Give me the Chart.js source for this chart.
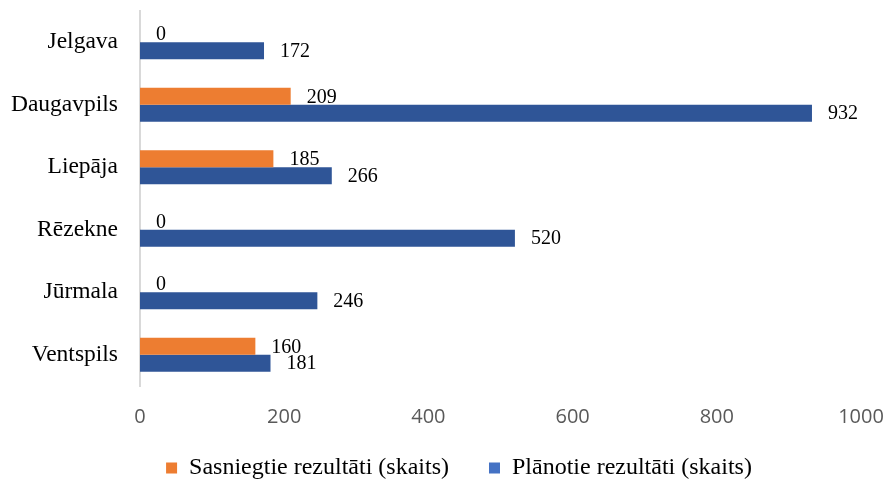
<!DOCTYPE html>
<html>
<head>
<meta charset="utf-8">
<script src="https://cdn.jsdelivr.net/npm/chart.js@4/dist/chart.umd.min.js"></script>
<style>
  html, body { margin: 0; padding: 0; background: #ffffff; }
  #wrap { width: 887px; height: 482px; }
</style>
</head>
<body>
<div id="wrap"><canvas id="c" width="887" height="482"></canvas></div>
<script>
// Cities (top to bottom) and the two result series
const cities = ['Jelgava', 'Daugavpils', 'Liepāja', 'Rēzekne', 'Jūrmala', 'Ventspils'];
const achieved = [0, 209, 185, 0, 0, 160];
const planned = [172, 932, 266, 520, 246, 181];
const seriesNames = ['Sasniegtie rezultāti (skaits)', 'Plānotie rezultāti (skaits)'];
const xTicks = [0, 200, 400, 600, 800, 1000];

const ORANGE = '#ED7D31';
const BLUE = '#2F5597';
const BLUE_KEY = '#4472C4';
const SERIF = '"Liberation Serif", "Times New Roman", serif';
const SANS = '"Open Sans", "Liberation Sans", sans-serif';

// Value labels written just past the end of each bar
const valueLabels = {
  id: 'valueLabels',
  afterDatasetsDraw(chart) {
    const ctx = chart.ctx;
    ctx.save();
    ctx.font = '20px ' + SERIF;
    ctx.fillStyle = '#000000';
    ctx.textAlign = 'left';
    ctx.textBaseline = 'middle';
    chart.data.datasets.forEach((ds, di) => {
      const meta = chart.getDatasetMeta(di);
      meta.data.forEach((bar, i) => {
        ctx.fillText(String(ds.data[i]), bar.x + 16, bar.y + 1);
      });
    });
    ctx.restore();
  }
};

// Nudge the legend row: a bit right of the canvas centre, a little closer to the axis labels
const legendPlacement = {
  id: 'legendPlacement',
  afterLayout(chart) {
    const lg = chart.legend;
    if (!lg) return;
    const dx = 459 - (lg.left + lg.right) / 2;
    lg.left += dx; lg.right += dx;
    lg.top -= 12;
  }
};

new Chart(document.getElementById('c'), {
  type: 'bar',
  data: {
    labels: cities,
    datasets: [
      { label: seriesNames[0], data: achieved, backgroundColor: ORANGE, keyColor: ORANGE },
      { label: seriesNames[1], data: planned, backgroundColor: BLUE, keyColor: BLUE_KEY }
    ]
  },
  options: {
    indexAxis: 'y',
    responsive: false,
    animation: false,
    layout: { padding: { top: 11, right: 26, left: 0, bottom: 0 } },
    datasets: { bar: { categoryPercentage: 0.543, barPercentage: 1.0, borderWidth: 0 } },
    scales: {
      x: {
        min: 0,
        max: 1000,
        afterBuildTicks(scale) { scale.ticks = xTicks.map(v => ({ value: v })); },
        grid: { display: false, drawTicks: false },
        border: { display: false },
        ticks: {
          color: '#595959',
          font: { family: SANS, size: 20 },
          padding: 19,
          maxRotation: 0,
          callback: v => String(v)
        },
        afterFit(scale) {
          scale.height = 42;
          scale.paddingLeft = 0;
          scale.paddingRight = 0;
        }
      },
      y: {
        grid: { display: false, drawTicks: false },
        border: { display: true, color: '#d9d9d9', width: 2 },
        ticks: { color: '#000000', font: { family: SERIF, size: 23.5 }, padding: 22 },
        afterFit(scale) {
          scale.width = 140;
          scale.paddingTop = 0;
          scale.paddingBottom = 0;
        }
      }
    },
    plugins: {
      tooltip: { enabled: false },
      legend: {
        position: 'bottom',
        maxHeight: 54,
        labels: {
          boxWidth: 11,
          boxHeight: 11,
          padding: 40,
          color: '#000000',
          font: { family: SERIF, size: 24 },
          generateLabels(chart) {
            return chart.data.datasets.map((ds, i) => ({
              text: ds.label,
              fillStyle: ds.keyColor,
              strokeStyle: ds.keyColor,
              lineWidth: 0,
              hidden: false,
              datasetIndex: i
            }));
          }
        }
      }
    }
  },
  plugins: [valueLabels, legendPlacement]
});
</script>
</body>
</html>
